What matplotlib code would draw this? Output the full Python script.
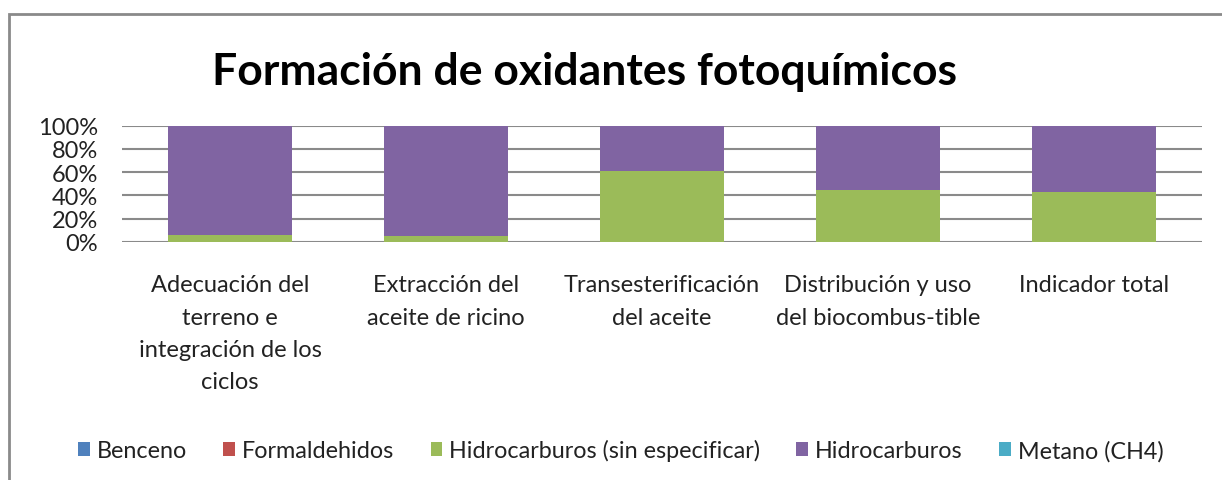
import matplotlib
matplotlib.use("Agg")
import matplotlib.pyplot as plt
from matplotlib.patches import Rectangle
from matplotlib.ticker import PercentFormatter

plt.rcParams['font.family'] = ['Lato', 'DejaVu Sans']

categories = [
    "Adecuación del\nterreno e\nintegración de los\nciclos",
    "Extracción del\naceite de ricino",
    "Transesterificación\ndel aceite",
    "Distribución y uso\ndel biocombus-tible",
    "Indicador total",
]
series_names = ["Benceno", "Formaldehidos", "Hidrocarburos (sin especificar)",
                "Hidrocarburos", "Metano (CH4)"]
benceno = [0, 0, 0, 0, 0]
formaldehidos = [0, 0, 0, 0, 0]
hidro_sin_esp = [6, 5, 61, 45, 43]
hidrocarburos = [94, 95, 39, 55, 57]
metano = [0, 0, 0, 0, 0]
colors = ["#4F81BD", "#C0504D", "#9BBB59", "#8064A2", "#4BACC6"]

fig = plt.figure(figsize=(12.22, 4.81), dpi=100)
ax = fig.add_axes([0.0998, 0.4954, 0.8838, 0.2412])

x = list(range(len(categories)))
bottom = [0] * len(categories)
handles = []
for name, vals, c in zip(series_names,
                         [benceno, formaldehidos, hidro_sin_esp, hidrocarburos, metano],
                         colors):
    b = ax.bar(x, vals, width=0.57, bottom=bottom, color=c, label=name, zorder=3)
    handles.append(b)
    bottom = [bb + v for bb, v in zip(bottom, vals)]

ax.set_xlim(-0.5, len(categories) - 0.5)
ax.set_ylim(0, 100)
ax.set_yticks([0, 20, 40, 60, 80, 100])
ax.yaxis.set_major_formatter(PercentFormatter(decimals=0))
ax.grid(axis='y', color='#8a8a8a', linewidth=1.5, zorder=0)
for s in ax.spines.values():
    s.set_visible(False)
ax.tick_params(axis='y', length=0, labelsize=17, pad=17, colors='#222222')
ax.tick_params(axis='x', length=0, labelsize=17, pad=23.5, colors='#222222')
ax.set_xticks(x)
ax.set_xticklabels(categories, linespacing=1.66)

fig.text(0.478, 0.85, "Formación de oxidantes fotoquímicos", ha='center', va='center',
         fontsize=32, fontweight='bold', color='black')

fig.legend(handles=handles, labels=series_names, loc='center', ncol=5,
           bbox_to_anchor=(0.508, 0.062), frameon=False, fontsize=16.8,
           handlelength=0.5, handleheight=0.5, handletextpad=0.3,
           columnspacing=1.55, labelcolor='#222222')

fig.add_artist(Rectangle((0.0075, -0.1), 1.1, 1.069, transform=fig.transFigure,
                         fill=False, edgecolor='#8a8a8a', linewidth=2))

fig.savefig("out.png", dpi=100)
